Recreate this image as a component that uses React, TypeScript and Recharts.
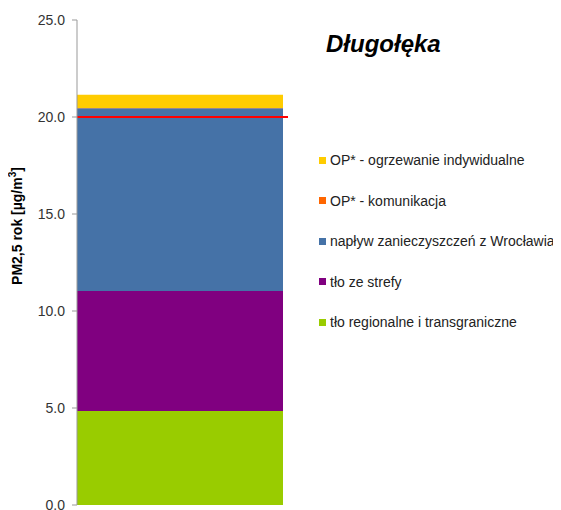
import { BarChart, Bar, XAxis, YAxis, ReferenceLine, Legend } from 'recharts';

const categories = ['Długołęka'];
const regionalValues = [4.85];
const zoneValues = [6.18];
const wroclawValues = [9.42];
const trafficValues = [0.02];
const heatingValues = [0.68];
const yTicks = [0, 5, 10, 15, 20, 25];
const limitValue = 20;

const SERIES = [
    { key: 'regional', name: 'tło regionalne i transgraniczne', color: '#99CC00', values: regionalValues },
    { key: 'zone', name: 'tło ze strefy', color: '#800080', values: zoneValues },
    { key: 'wroclaw', name: 'napływ zanieczyszczeń z Wrocławia', color: '#4572A7', values: wroclawValues },
    { key: 'traffic', name: 'OP* - komunikacja', color: '#FF6600', values: trafficValues },
    { key: 'heating', name: 'OP* - ogrzewanie indywidualne', color: '#FFCC00', values: heatingValues }
];

const data = categories.map((name, i) => {
    const row: Record<string, string | number> = { name };
    SERIES.forEach((s) => {
        row[s.key] = s.values[i];
    });
    return row;
});

const FONT = '"Liberation Sans", Arial, sans-serif';

function LegendBox() {
    const items = [...SERIES].reverse();
    return (
        <div style={{ fontFamily: FONT, fontSize: 14, color: '#222' }}>
            {items.map((s) => (
                <div key={s.key} style={{ display: 'flex', alignItems: 'center', height: 40.5 }}>
                    <span style={{ width: 7, height: 7, background: s.color, marginRight: 4, display: 'inline-block' }} />
                    <span>{s.name}</span>
                </div>
            ))}
        </div>
    );
}

function YLabel() {
    return (
        <text
            x={10}
            y={218}
            transform="rotate(-90 10 218)"
            textAnchor="middle"
            dominantBaseline="middle"
            fontFamily={FONT}
            fontSize={14}
            fontWeight="bold"
            fill="#000"
        >
            PM2,5 rok [µg/m<tspan dy={-5} fontSize={10}>3</tspan><tspan dy={5}>]</tspan>
        </text>
    );
}

export default function App() {
    return (
        <div style={{ position: 'relative', width: 553, height: 502, overflow: 'hidden' }}>
            <BarChart
                width={553}
                height={510}
                data={data}
                margin={{ top: 12, right: 273, bottom: 13, left: 0 }}
                barCategoryGap={0}
            >
                <XAxis dataKey="name" hide padding={{ left: 0, right: 5 }} />
                <YAxis
                    width={69}
                    domain={[0, 25]}
                    ticks={yTicks}
                    interval={0}
                    tickFormatter={(v: number) => v.toFixed(1)}
                    tick={{ fill: '#333', fontSize: 14, fontFamily: FONT }}
                    axisLine={{ stroke: '#999' }}
                    tickLine={{ stroke: '#999' }}
                    tickSize={5}
                    tickMargin={7}
                    label={<YLabel />}
                />
                {SERIES.map((s) => (
                    <Bar
                        key={s.key}
                        dataKey={s.key}
                        name={s.name}
                        stackId="a"
                        fill={s.color}
                        isAnimationActive={false}
                    />
                ))}
                <ReferenceLine y={limitValue} stroke="#FF0000" strokeWidth={2} ifOverflow="extendDomain" />
                <Legend
                    layout="vertical"
                    align="center"
                    verticalAlign="middle"
                    content={() => <LegendBox />}
                    wrapperStyle={{ left: 311, top: 132, width: 242 }}
                />
            </BarChart>
            <div
                style={{
                    position: 'absolute',
                    left: 318,
                    top: 22,
                    fontFamily: FONT,
                    fontSize: 24,
                    fontWeight: 'bold',
                    fontStyle: 'italic',
                    color: '#000'
                }}
            >
                Długołęka
            </div>
        </div>
    );
}
